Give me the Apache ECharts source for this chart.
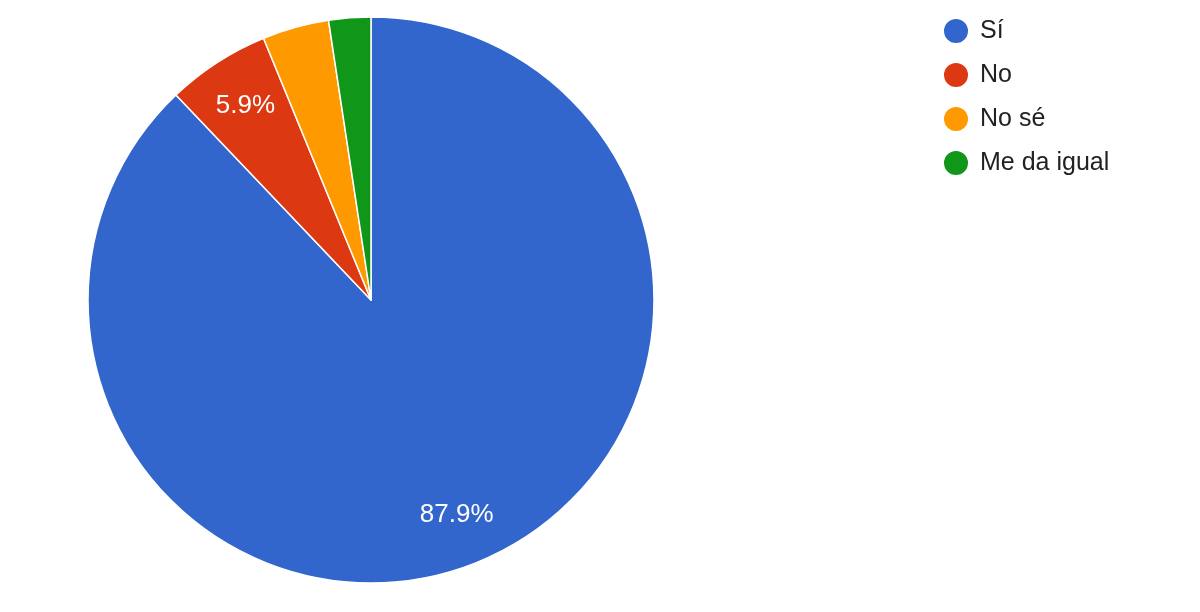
<!DOCTYPE html>
<html><head><meta charset="utf-8">
<script src="https://cdn.jsdelivr.net/npm/echarts@6/dist/echarts.min.js"></script>
<style>html,body{margin:0;padding:0;background:#fff}#c{width:1200px;height:612px}</style>
</head><body><div id="c"></div>
<script>
const categories = ['Sí', 'No', 'No sé', 'Me da igual'];
const values = [87.9, 5.9, 3.8, 2.4];
const labelsShown = [true, true, false, false];
const colors = ['#3366cc', '#dc3912', '#ff9900', '#109618'];

const chart = echarts.init(document.getElementById('c'));
const center = [371, 300];
const R = 283;
chart.setOption({
  animation: false,
  color: colors,
  legend: {
    orient: 'vertical',
    left: 942, top: 17,
    padding: 0,
    itemWidth: 26, itemHeight: 26,
    itemGap: 16,
    icon: 'circle',
    data: categories,
    textStyle: { fontFamily: 'Liberation Sans, Arial', fontSize: 25, lineHeight: 26, color: '#222', padding: [0, 0, 0, 6] }
  },
  series: [{
    type: 'pie',
    center: center,
    radius: [0, R],
    startAngle: 90,
    clockwise: true,
    label: { show: false },
    labelLine: { show: false },
    itemStyle: { borderColor: '#fff', borderWidth: 1.5 },
    data: categories.map((n, i) => ({ name: n, value: values[i] }))
  }, {
    type: 'pie',
    center: center,
    radius: [R * 0.61, R],
    startAngle: 90,
    clockwise: true,
    silent: true,
    legendHoverLink: false,
    itemStyle: { color: 'rgba(0,0,0,0)', borderWidth: 0 },
    label: {
      position: 'inside',
      formatter: p => p.value.toFixed(1) + '%',
      color: '#fff',
      fontFamily: 'Liberation Sans, Arial',
      fontSize: 26
    },
    labelLine: { show: false },
    data: categories.map((n, i) => ({ name: n, value: values[i], label: { show: labelsShown[i] } }))
  }]
});
</script></body></html>
